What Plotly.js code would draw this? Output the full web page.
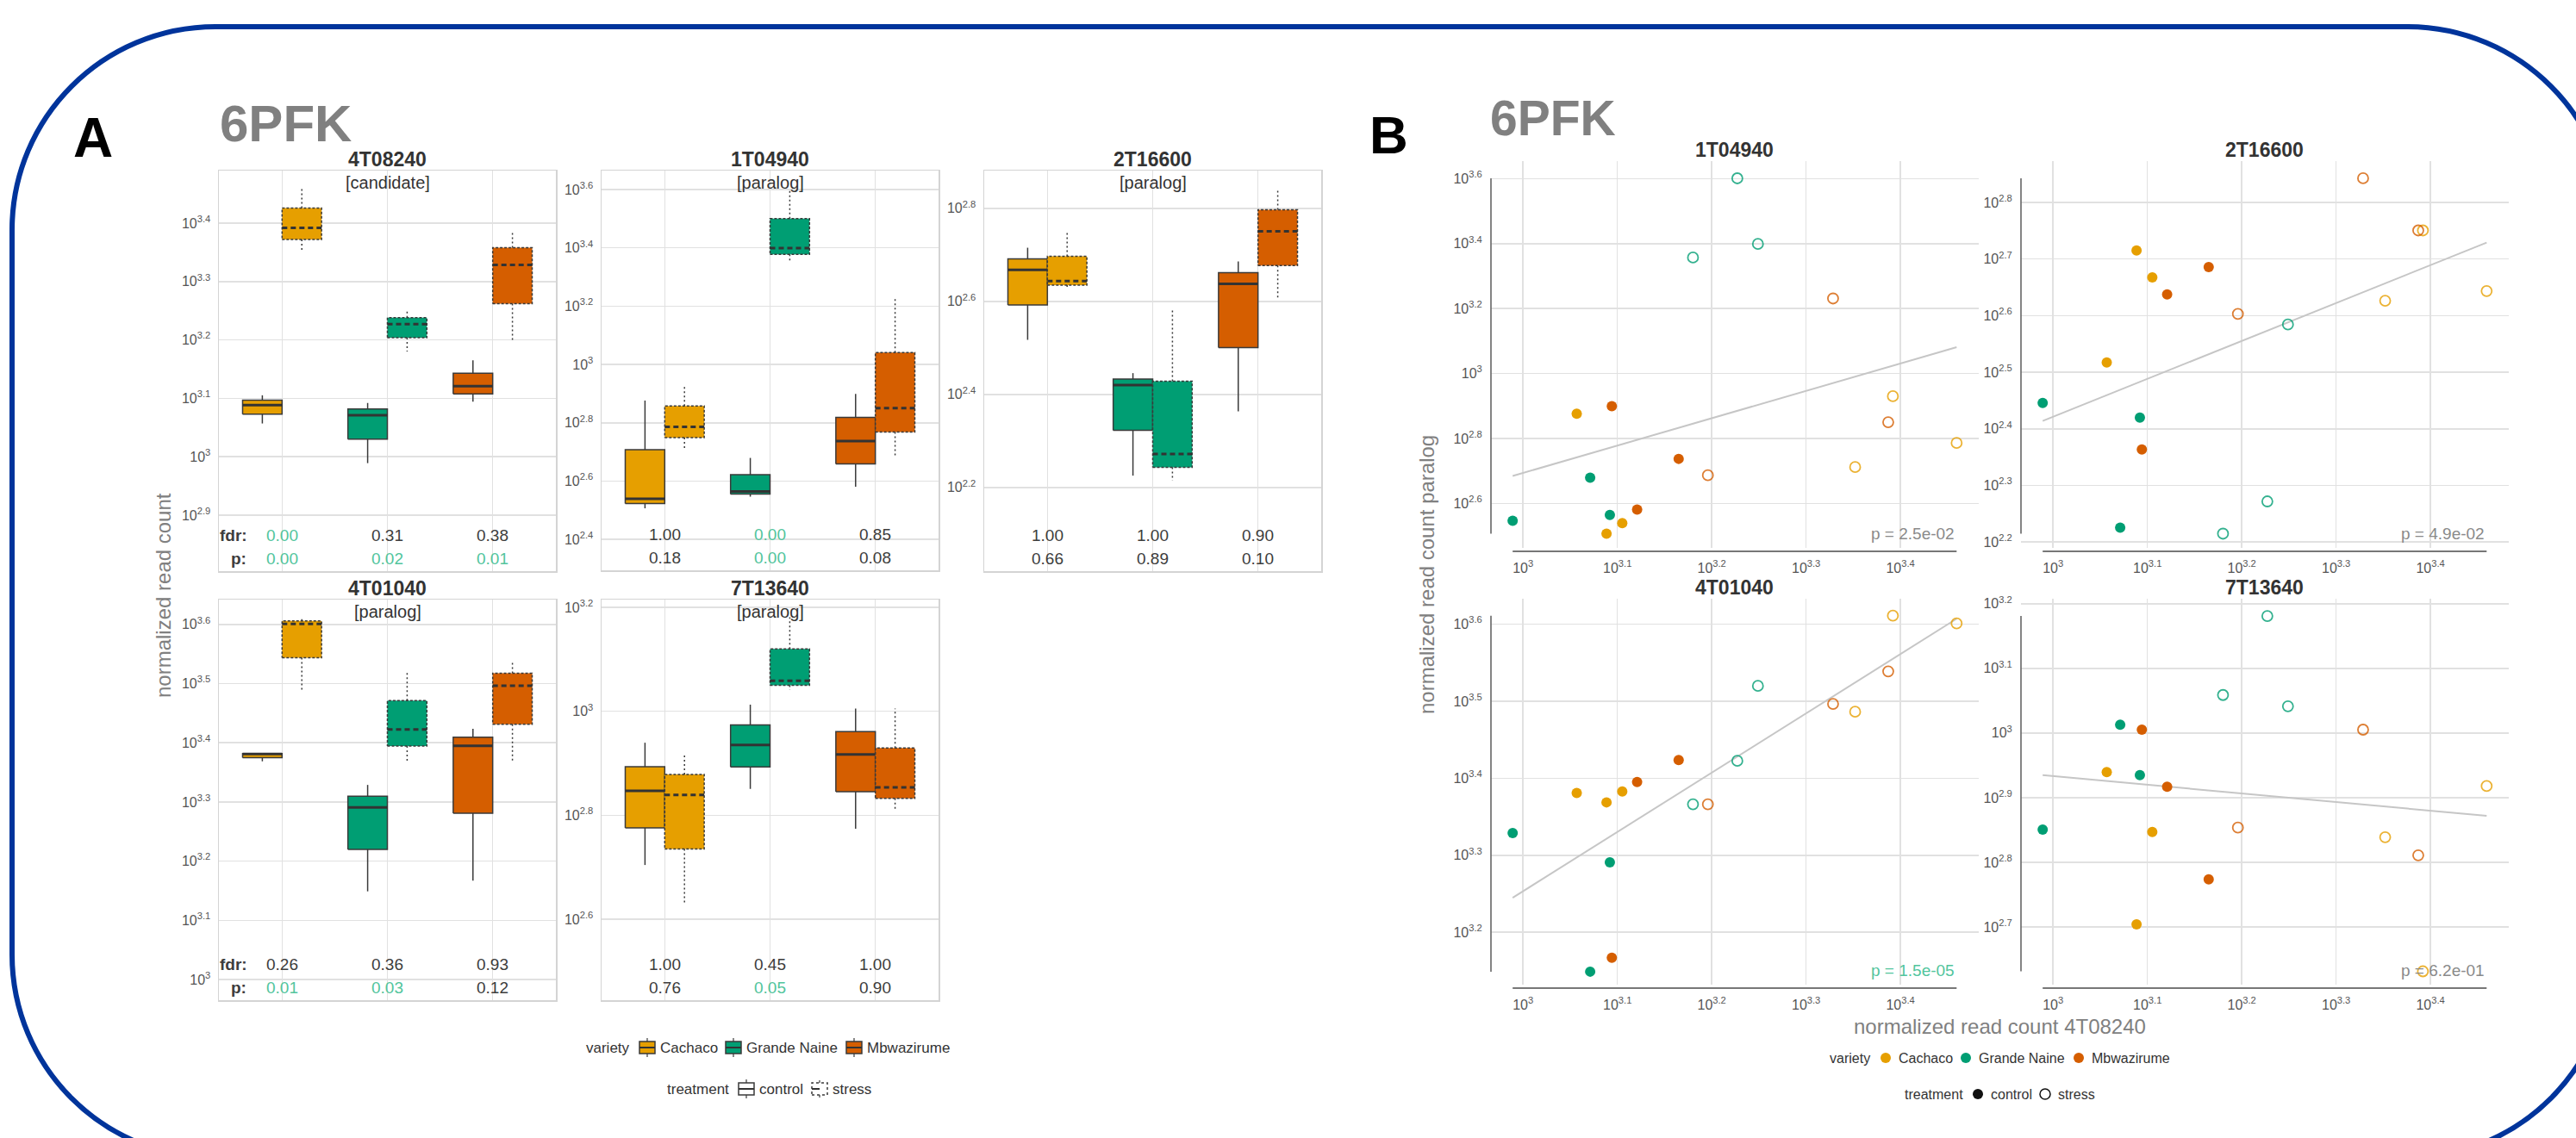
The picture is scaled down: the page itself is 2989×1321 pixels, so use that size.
<!DOCTYPE html>
<html><head><meta charset="utf-8">
<script src="https://cdn.plot.ly/plotly-3.0.1.min.js"></script>
<style>html,body{margin:0;padding:0;background:#fff;}#chart{width:2989px;height:1321px;}</style>
</head><body><div id="chart"></div>
<script>
// ================= DATA =================
const varieties = ['Cachaco', 'Grande Naine', 'Mbwazirume'];
const varietyColors = ['#E69F00', '#009E73', '#D55E00'];
const treatments = ['control', 'stress'];
// one entry per sample (3 replicates per variety x treatment)
const sampleVariety = ['Cachaco','Cachaco','Cachaco','Grande Naine','Grande Naine','Grande Naine','Mbwazirume','Mbwazirume','Mbwazirume',
                       'Cachaco','Cachaco','Cachaco','Grande Naine','Grande Naine','Grande Naine','Mbwazirume','Mbwazirume','Mbwazirume'];
const sampleTreatment = ['control','control','control','control','control','control','control','control','control',
                         'stress','stress','stress','stress','stress','stress','stress','stress','stress'];
// normalized read counts per gene (same sample order)
const count4T08240 = [1140,1226,1274, 975,1178,1236, 1242,1321,1462, 2249,2466,2881, 1514,1687,1774, 1570,2131,2438];
const count1T04940 = [752,321,346, 352,478,367, 793,381,546, 515,851,611, 2275,3990,2506, 486,1702,708];
const count2T16600 = [329,519,465, 279,168,263, 231,434,485, 423,563,440, 164,187,384, 401,696,563];
const count4T01040 = [2404,2337,2414, 2132,1409,1954, 1469,2483,2652, 3064,4083,3990, 2324,2646,3310, 2324,3137,3457];
const count7T13640 = [870,506,703, 709,1030,861, 1012,826,594, 690,428,828, 1145,1517,1100, 714,1012,647];
// per-variety test results (Cachaco, Grande Naine, Mbwazirume)
const fdr4T08240 = [0.00, 0.31, 0.38], p4T08240 = [0.00, 0.02, 0.01];
const fdr1T04940 = [1.00, 0.00, 0.85], p1T04940 = [0.18, 0.00, 0.08];
const fdr2T16600 = [1.00, 1.00, 0.90], p2T16600 = [0.66, 0.89, 0.10];
const fdr4T01040 = [0.26, 0.36, 0.93], p4T01040 = [0.01, 0.03, 0.12];
const fdr7T13640 = [1.00, 0.45, 1.00], p7T13640 = [0.76, 0.05, 0.90];
// correlation p-values (paralog vs candidate 4T08240)
const corrGenes = ['1T04940', '2T16600', '4T01040', '7T13640'];
const corrP = [2.5e-02, 4.9e-02, 1.5e-05, 6.2e-01];
// tick labels (log10 exponents)
const ticksA4T08240 = [2.9, 3, 3.1, 3.2, 3.3, 3.4];
const ticksA1T04940 = [2.4, 2.6, 2.8, 3, 3.2, 3.4, 3.6];
const ticksA2T16600 = [2.2, 2.4, 2.6, 2.8];
const ticksA4T01040 = [3, 3.1, 3.2, 3.3, 3.4, 3.5, 3.6];
const ticksA7T13640 = [2.6, 2.8, 3, 3.2];
const ticksBx = [3, 3.1, 3.2, 3.3, 3.4];
const ticksB1T04940 = [2.6, 2.8, 3, 3.2, 3.4, 3.6];
const ticksB2T16600 = [2.2, 2.3, 2.4, 2.5, 2.6, 2.7, 2.8];
const ticksB4T01040 = [3.2, 3.3, 3.4, 3.5, 3.6];
const ticksB7T13640 = [2.7, 2.8, 2.9, 3, 3.1, 3.2];

// ================= HELPERS =================
const W = 2989, H = 1321;
const X = v => v / W, Y = v => 1 - v / H;
const FONT = 'Liberation Sans, Arial, Helvetica, sans-serif';
const GRID = '#e1e1e1';
const GREEN = '#52c59d';
const tickText = v => '10<sup>' + (Math.abs(v - Math.round(v)) < 1e-9 ? String(Math.round(v)) : v.toFixed(1)) + '</sup>';
function quant(s, q) { const pos = (s.length - 1) * q, lo = Math.floor(pos), f = pos - lo; return lo + 1 < s.length ? s[lo] + f * (s[lo + 1] - s[lo]) : s[lo]; }
const fmtExp = p => p.toExponential(1).replace(/e([+-])(\d)$/, 'e$10$2');

const data = [];
const annotations = [];
const shapes = [];
const layout = {
  width: W, height: H, margin: {l: 0, r: 0, t: 0, b: 0, pad: 0},
  paper_bgcolor: '#ffffff', plot_bgcolor: 'rgba(0,0,0,0)', showlegend: false,
  font: {family: FONT, color: '#333'}, annotations, shapes
};
function ann(text, xpx, ypx, size, o) {
  annotations.push(Object.assign({text, x: X(xpx), y: Y(ypx), xref: 'paper', yref: 'paper', showarrow: false,
    xanchor: 'center', yanchor: 'middle', font: {family: FONT, size, color: '#333'}}, o || {}));
}

// ================= FRAME =================
(function () {
  const L = 14, T = 31, R = 3029, B = 1344, r = 236, k = 0.5523 * r;
  const P = (x, y) => X(x).toFixed(5) + ',' + Y(y).toFixed(5);
  const path = 'M' + P(L + r, T) + ' L' + P(R - r, T) +
    ' C' + P(R - r + k, T) + ' ' + P(R, T + r - k) + ' ' + P(R, T + r) +
    ' L' + P(R, B - r) +
    ' C' + P(R, B - r + k) + ' ' + P(R - r + k, B) + ' ' + P(R - r, B) +
    ' L' + P(L + r, B) +
    ' C' + P(L + r - k, B) + ' ' + P(L, B - r + k) + ' ' + P(L, B - r) +
    ' L' + P(L, T + r) +
    ' C' + P(L, T + r - k) + ' ' + P(L + r - k, T) + ' ' + P(L + r, T) + ' Z';
  shapes.push({type: 'path', path, xref: 'paper', yref: 'paper', line: {color: '#00349b', width: 6}, layer: 'above'});
})();

// ================= PANEL A : BOX PLOTS =================
ann('<b>A</b>', 108, 160, 64, {font: {family: FONT, size: 64, color: '#000'}});
ann('<b>6PFK</b>', 331, 143, 60, {font: {family: FONT, size: 60, color: '#808080'}});
ann('normalized read count', 189, 691, 24, {textangle: -90, font: {family: FONT, size: 24, color: '#808080'}});

const boxPanels = [
  {gene: '4T08240', role: '[candidate]', counts: count4T08240, fdr: fdr4T08240, p: p4T08240, ticks: ticksA4T08240, rect: [254, 198, 645, 663], range: [2.804, 3.49], rowLabels: true},
  {gene: '1T04940', role: '[paralog]', counts: count1T04940, fdr: fdr1T04940, p: p1T04940, ticks: ticksA1T04940, rect: [698, 198, 1089, 662], range: [2.294, 3.665]},
  {gene: '2T16600', role: '[paralog]', counts: count2T16600, fdr: fdr2T16600, p: p2T16600, ticks: ticksA2T16600, rect: [1142, 198, 1533, 663], range: [2.020, 2.881]},
  {gene: '4T01040', role: '[paralog]', counts: count4T01040, fdr: fdr4T01040, p: p4T01040, ticks: ticksA4T01040, rect: [254, 696, 645, 1161], range: [2.965, 3.642], rowLabels: true},
  {gene: '7T13640', role: '[paralog]', counts: count7T13640, fdr: fdr7T13640, p: p7T13640, ticks: ticksA7T13640, rect: [698, 696, 1089, 1161], range: [2.444, 3.215]}
];
const BW = 0.375;
boxPanels.forEach((P, i) => {
  const k = i + 1, sfx = k === 1 ? '' : String(k);
  const xa = 'x' + sfx, ya = 'y' + sfx;
  const [l, t, r, b] = P.rect;
  layout['xaxis' + sfx] = {domain: [X(l), X(r)], anchor: ya, range: [-0.6, 2.6], tickvals: [0, 1, 2], showticklabels: false,
    showgrid: true, gridcolor: GRID, gridwidth: 1.5, zeroline: false, showline: true, mirror: true, linecolor: '#d4d4d4', linewidth: 1.5, ticks: '', fixedrange: true};
  layout['yaxis' + sfx] = {domain: [Y(b), Y(t)], anchor: xa, range: P.range, tickvals: P.ticks, ticktext: P.ticks.map(tickText),
    tickfont: {family: FONT, size: 16, color: '#555'}, ticks: 'outside', ticklen: 5, tickcolor: 'rgba(0,0,0,0)',
    showgrid: true, gridcolor: GRID, gridwidth: 1.5, zeroline: false, showline: true, mirror: true, linecolor: '#d4d4d4', linewidth: 1.5, fixedrange: true};
  const logv = P.counts.map(Math.log10);
  treatments.forEach((tr, ti) => {
    const med = {x: [], y: []}, wh = {x: [], y: []};
    varieties.forEach((v, vi) => {
      const vals = logv.filter((_, s) => sampleVariety[s] === v && sampleTreatment[s] === tr).sort((a, c) => a - c);
      const q1 = quant(vals, 0.25), q2 = quant(vals, 0.5), q3 = quant(vals, 0.75);
      const x0 = vi + (ti === 0 ? -BW : 0), x1 = x0 + BW, xc = (x0 + x1) / 2;
      data.push({type: 'scatter', mode: 'lines', xaxis: xa, yaxis: ya, x: [x0, x1, x1, x0, x0], y: [q1, q1, q3, q3, q1],
        fill: 'toself', fillcolor: varietyColors[vi], line: {color: '#3a3a3a', width: 1.5, dash: ti ? '3px,2px' : 'solid'}, hoverinfo: 'skip'});
      med.x.push(x0, x1, null); med.y.push(q2, q2, null);
      wh.x.push(xc, xc, null, xc, xc, null); wh.y.push(q3, vals[vals.length - 1], null, q1, vals[0], null);
    });
    data.push({type: 'scatter', mode: 'lines', xaxis: xa, yaxis: ya, x: med.x, y: med.y, line: {color: '#333', width: 3, dash: ti ? '6px,4px' : 'solid'}, hoverinfo: 'skip'});
    data.push({type: 'scatter', mode: 'lines', xaxis: xa, yaxis: ya, x: wh.x, y: wh.y, line: {color: '#3a3a3a', width: 1.5, dash: ti ? '2px,3px' : 'solid'}, hoverinfo: 'skip'});
  });
  const cx = (l + r) / 2;
  const rowTitle = t - 13, rowRole = t + 14;
  ann('<b>' + P.gene + '</b>', cx, rowTitle, 23);
  ann(P.role, cx, rowRole, 20);
  varieties.forEach((v, vi) => {
    [['fdr', P.fdr[vi], 0.09], ['p', P.p[vi], 0.031]].forEach(([nm, val, yy]) => {
      annotations.push({text: val.toFixed(2), x: vi, y: yy, xref: xa, yref: ya + ' domain', showarrow: false, xanchor: 'center', yanchor: 'middle',
        font: {family: FONT, size: 19, color: val <= 0.05 ? GREEN : '#3d3d3d'}});
    });
  });
  if (P.rowLabels) {
    annotations.push({text: '<b>fdr:</b>', x: -0.465, y: 0.09, xref: xa, yref: ya + ' domain', showarrow: false, xanchor: 'center', yanchor: 'middle', font: {family: FONT, size: 19, color: '#3d3d3d'}});
    annotations.push({text: '<b>p:</b>', x: -0.41, y: 0.031, xref: xa, yref: ya + ' domain', showarrow: false, xanchor: 'center', yanchor: 'middle', font: {family: FONT, size: 19, color: '#3d3d3d'}});
  }
});

// Panel A legend
(function () {
  const rowY = [1216, 1264];
  ann('variety', 705, rowY[0], 17);
  const icon = (cx, cy, fill, dashed) => {
    const dash = dashed ? 'dot' : 'solid';
    shapes.push({type: 'rect', xref: 'paper', yref: 'paper', x0: X(cx - 9), x1: X(cx + 9), y0: Y(cy + 7), y1: Y(cy - 7), fillcolor: fill, line: {color: '#3a3a3a', width: 1.5, dash}});
    shapes.push({type: 'line', xref: 'paper', yref: 'paper', x0: X(cx - 9), x1: X(cx + 9), y0: Y(cy), y1: Y(cy), line: {color: '#333', width: 2, dash: dashed ? 'dash' : 'solid'}});
    shapes.push({type: 'line', xref: 'paper', yref: 'paper', x0: X(cx), x1: X(cx), y0: Y(cy - 7), y1: Y(cy - 11), line: {color: '#3a3a3a', width: 1.2, dash}});
    shapes.push({type: 'line', xref: 'paper', yref: 'paper', x0: X(cx), x1: X(cx), y0: Y(cy + 7), y1: Y(cy + 11), line: {color: '#3a3a3a', width: 1.2, dash}});
  };
  const iconX = [751, 851, 991], textX = [764, 864, 1004];
  varieties.forEach((v, i) => { icon(iconX[i], rowY[0], varietyColors[i], false); ann(v, textX[i], rowY[0], 17, {xanchor: 'left'}); });
  ann('treatment', 810, rowY[1], 17);
  const tIconX = [866, 951], tTextX = [879, 964];
  treatments.forEach((t, i) => { icon(tIconX[i], rowY[1], '#ffffff', i === 1); ann(t, tTextX[i], rowY[1], 17, {xanchor: 'left'}); });
})();

// ================= PANEL B : SCATTER =================
ann('<b>B</b>', 1611, 157, 62, {font: {family: FONT, size: 62, color: '#000'}});
ann('<b>6PFK</b>', 1802, 137, 57, {font: {family: FONT, size: 57, color: '#808080'}});
ann('normalized read count paralog', 1655, 667, 24, {textangle: -90, font: {family: FONT, size: 24, color: '#808080'}});
ann('normalized read count 4T08240', 2320, 1191, 24, {font: {family: FONT, size: 24, color: '#808080'}});

const scatterPanels = [
  {gene: '1T04940', counts: count1T04940, yticks: ticksB1T04940, rect: [1730, 187, 2296, 636], range: [2.463, 3.654]},
  {gene: '2T16600', counts: count2T16600, yticks: ticksB2T16600, rect: [2345, 187, 2911, 636], range: [2.1897, 2.873]},
  {gene: '4T01040', counts: count4T01040, yticks: ticksB4T01040, rect: [1730, 695, 2296, 1143], range: [3.132, 3.633]},
  {gene: '7T13640', counts: count7T13640, yticks: ticksB7T13640, rect: [2345, 695, 2911, 1143], range: [2.6108, 3.2077]}
];
const logX = count4T08240.map(Math.log10);
scatterPanels.forEach((P, i) => {
  const k = i + 6, xa = 'x' + k, ya = 'y' + k;
  const [l, t, r, b] = P.rect;
  layout['xaxis' + k] = {domain: [X(l), X(r)], anchor: ya, range: [2.966, 3.483], tickvals: ticksBx, ticktext: ticksBx.map(tickText),
    tickfont: {family: FONT, size: 16, color: '#555'}, ticks: 'outside', ticklen: 9, tickcolor: 'rgba(0,0,0,0)',
    showgrid: true, gridcolor: GRID, gridwidth: 1.5, zeroline: false, showline: false, fixedrange: true};
  layout['yaxis' + k] = {domain: [Y(b), Y(t)], anchor: xa, range: P.range, tickvals: P.yticks, ticktext: P.yticks.map(tickText),
    tickfont: {family: FONT, size: 16, color: '#555'}, ticks: 'outside', ticklen: 6, tickcolor: 'rgba(0,0,0,0)',
    showgrid: true, gridcolor: GRID, gridwidth: 1.5, zeroline: false, showline: false, fixedrange: true};
  const logY = P.counts.map(Math.log10);
  // least-squares fit in log space
  const n = logX.length, mx = logX.reduce((a, c) => a + c, 0) / n, my = logY.reduce((a, c) => a + c, 0) / n;
  let sxy = 0, sxx = 0;
  for (let s = 0; s < n; s++) { sxy += (logX[s] - mx) * (logY[s] - my); sxx += (logX[s] - mx) ** 2; }
  const slope = sxy / sxx, icpt = my - slope * mx;
  const xmin = Math.min(...logX), xmax = Math.max(...logX), ymin = Math.min(...logY), ymax = Math.max(...logY);
  data.push({type: 'scatter', mode: 'lines', xaxis: xa, yaxis: ya, x: [xmin, xmax], y: [icpt + slope * xmin, icpt + slope * xmax],
    line: {color: '#c6c6c6', width: 2}, hoverinfo: 'skip'});
  treatments.forEach((tr, ti) => {
    const idx = logX.map((_, s) => s).filter(s => sampleTreatment[s] === tr);
    data.push({type: 'scatter', mode: 'markers', xaxis: xa, yaxis: ya, cliponaxis: false,
      x: idx.map(s => logX[s]), y: idx.map(s => logY[s]),
      marker: {size: 12, symbol: ti ? 'circle-open' : 'circle', color: idx.map(s => varietyColors[varieties.indexOf(sampleVariety[s])]),
        opacity: ti ? 0.8 : 1, line: {width: ti ? 1.8 : 0}},
      hoverinfo: 'skip'});
  });
  // trimmed, offset spines
  shapes.push({type: 'line', xref: xa + ' domain', yref: ya, x0: 0, x1: 0, y0: ymin, y1: ymax, line: {color: '#666', width: 1.6}, layer: 'above'});
  const off = -4 / (b - t);
  shapes.push({type: 'line', xref: xa, yref: ya + ' domain', x0: xmin, x1: xmax, y0: off, y1: off, line: {color: '#777', width: 2}, layer: 'above'});
  ann('<b>' + P.gene + '</b>', (l + r) / 2 + (k % 2 === 0 ? 0 : 0) - ((r - l) / 2 - 282), t - 13, 23);
  const pv = corrP[corrGenes.indexOf(P.gene)];
  annotations.push({text: 'p = ' + fmtExp(pv), x: xmax, y: 0.036, xref: xa, yref: ya + ' domain', showarrow: false, xanchor: 'right', yanchor: 'middle',
    font: {family: FONT, size: 19, color: pv < 0.01 ? GREEN : '#8a8a8a'}});
});

// Panel B legend
(function () {
  const rowY = [1228, 1270];
  const dot = (cx, cy, fill, open) => shapes.push({type: 'circle', xref: 'paper', yref: 'paper', x0: X(cx - 6), x1: X(cx + 6), y0: Y(cy + 6), y1: Y(cy - 6),
    fillcolor: open ? 'rgba(0,0,0,0)' : fill, line: {color: open ? fill : 'rgba(0,0,0,0)', width: open ? 1.5 : 0}});
  ann('variety', 2146, rowY[0], 16);
  const dX = [2188, 2281, 2412], tX = [2201, 2294, 2425];
  varieties.forEach((v, i) => { dot(dX[i], rowY[0], varietyColors[i], false); ann(v, tX[i], rowY[0], 16, {xanchor: 'left'}); });
  ann('treatment', 2244, rowY[1], 16);
  const cX = [2295, 2373], ctX = [2308, 2386];
  treatments.forEach((t, i) => { dot(cX[i], rowY[1], '#111', i === 1); ann(t, ctX[i], rowY[1], 16, {xanchor: 'left'}); });
})();

Plotly.newPlot('chart', data, layout, {staticPlot: true, displayModeBar: false});
</script>
</body></html>
